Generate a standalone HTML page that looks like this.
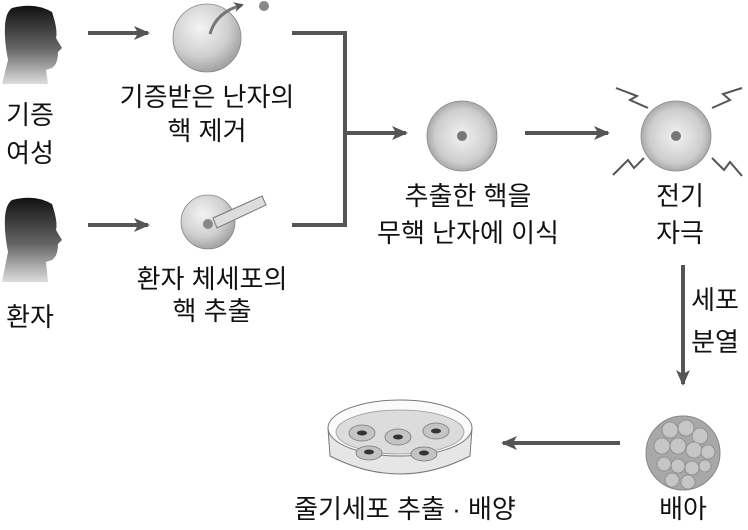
<!DOCTYPE html>
<html><head><meta charset="utf-8"><style>
html,body{margin:0;padding:0;background:#fff;}
svg{display:block;}
text{font-family:"Liberation Sans","Noto Sans CJK KR","NanumGothic",sans-serif;font-size:26px;fill:#111;text-anchor:middle;}
</style></head><body>
<svg width="748" height="530" viewBox="0 0 748 530" xmlns="http://www.w3.org/2000/svg">
<defs>
<radialGradient id="eg" cx="0.4" cy="0.35" r="0.7"><stop offset="0" stop-color="#f4f4f4"/><stop offset="0.6" stop-color="#cfcfcf"/><stop offset="1" stop-color="#9a9a9a"/></radialGradient>
<radialGradient id="eg2" cx="0.5" cy="0.5" r="0.55"><stop offset="0" stop-color="#f2f2f2"/><stop offset="0.7" stop-color="#cdcdcd"/><stop offset="1" stop-color="#9b9b9b"/></radialGradient>
<linearGradient id="hd" x1="0" y1="0" x2="0" y2="1"><stop offset="0" stop-color="#111"/><stop offset="0.55" stop-color="#666"/><stop offset="1" stop-color="#ddd"/></linearGradient>
<marker id="ah" markerWidth="10" markerHeight="10" refX="8" refY="5" orient="auto" markerUnits="userSpaceOnUse"><path d="M0,0 L10,5 L0,10 L3,5z" fill="#555"/></marker>
<marker id="ah2" markerWidth="16" markerHeight="14" refX="14" refY="7" orient="auto" markerUnits="userSpaceOnUse"><path d="M0,0 L16,7 L0,14 L4,7z" fill="#555"/></marker>
</defs>
<g fill="url(#hd)">
<path d="M12,8 Q35,2 52,12 Q58,30 56,38 L62,48 L58,52 Q58,64 52,68 L46,70 L48,84 L2,84 L8,60 Q4,40 5,25 Q6,12 12,8z"/>
<path d="M12,200 Q35,194 52,204 Q58,222 56,230 L62,240 L58,244 Q58,256 52,260 L46,262 L48,282 L2,282 L8,252 Q4,232 5,217 Q6,204 12,200z"/>
</g>
<text x="30" y="124">기증</text>
<text x="30" y="162">여성</text>
<text x="30" y="326">환자</text>
<g stroke="#555" stroke-width="4" fill="none">
<line x1="88" y1="33" x2="148" y2="33" marker-end="url(#ah2)"/>
<line x1="88" y1="225" x2="148" y2="225" marker-end="url(#ah2)"/>
<polyline points="292,33 345,33 345,225 292,225"/>
<line x1="345" y1="133" x2="406" y2="133" marker-end="url(#ah2)"/>
<line x1="525" y1="133" x2="608" y2="133" marker-end="url(#ah2)"/>
<line x1="683" y1="265" x2="683" y2="384" marker-end="url(#ah2)"/>
<line x1="620" y1="443" x2="503" y2="443" marker-end="url(#ah2)"/>
</g>
<circle cx="207" cy="38" r="34" fill="url(#eg)" stroke="#888" stroke-width="0.8"/>
<path d="M210,34 Q216,12 242,5" stroke="#777" stroke-width="3" fill="none" marker-end="url(#ah)"/>
<circle cx="264" cy="6" r="5" fill="#888"/>
<text x="207" y="106">기증받은 난자의</text>
<text x="207" y="140">핵 제거</text>
<circle cx="208" cy="222" r="27" fill="url(#eg)" stroke="#888" stroke-width="0.8"/>
<path d="M213,218 L262,196 L266,205 L217,228z" fill="#ddd" stroke="#777" stroke-width="1"/>
<circle cx="208" cy="224" r="5" fill="#888"/>
<text x="212" y="288">환자 체세포의</text>
<text x="212" y="320">핵 추출</text>
<circle cx="462" cy="136" r="35" fill="url(#eg2)" stroke="#888" stroke-width="0.8"/>
<circle cx="462" cy="136" r="5" fill="#777"/>
<text x="468" y="205">추출한 핵을</text>
<text x="468" y="242">무핵 난자에 이식</text>
<circle cx="676" cy="136" r="35" fill="url(#eg2)" stroke="#888" stroke-width="0.8"/>
<circle cx="676" cy="136" r="5" fill="#777"/>
<g stroke="#555" stroke-width="2" fill="none">
<polyline points="648,108 630,100 637,96 616,88"/>
<polyline points="712,108 730,100 723,94 742,88"/>
<polyline points="644,158 634,168 628,160 613,175"/>
<polyline points="712,158 724,170 730,162 742,176"/>
</g>
<text x="680" y="205">전기</text>
<text x="680" y="242">자극</text>
<text x="715" y="309">세포</text>
<text x="715" y="351">분열</text>
<circle cx="683" cy="453" r="37" fill="#a8a8a8" stroke="#888"/>
<g fill="#c6c6c6" stroke="#8a8a8a" stroke-width="0.8">
<circle cx="670" cy="430" r="8"/><circle cx="686" cy="428" r="8"/><circle cx="700" cy="436" r="8"/>
<circle cx="662" cy="446" r="8"/><circle cx="678" cy="446" r="8"/><circle cx="694" cy="450" r="8"/><circle cx="708" cy="452" r="7"/>
<circle cx="664" cy="464" r="7"/><circle cx="678" cy="466" r="7"/><circle cx="692" cy="468" r="7"/><circle cx="705" cy="466" r="6"/>
<circle cx="672" cy="480" r="7"/><circle cx="688" cy="482" r="7"/>
</g>
<text x="683" y="518">배아</text>
<path d="M328,428 L330,456 Q400,492 470,456 L472,428" fill="#e6e6e6" stroke="#777" stroke-width="1"/>
<ellipse cx="400" cy="428" rx="72" ry="28" fill="#fafafa" stroke="#777" stroke-width="1"/>
<ellipse cx="400" cy="432" rx="64" ry="22" fill="#dcdcdc" stroke="#999" stroke-width="0.8"/>
<g fill="#c4c4c4" stroke="#777" stroke-width="0.8">
<ellipse cx="362" cy="433" rx="13" ry="8"/><ellipse cx="398" cy="437" rx="13" ry="8"/><ellipse cx="436" cy="431" rx="13" ry="8"/>
<ellipse cx="369" cy="453" rx="13" ry="7"/><ellipse cx="424" cy="454" rx="13" ry="7"/>
</g>
<g fill="#333"><ellipse cx="362" cy="433" rx="5" ry="2.5"/><ellipse cx="398" cy="437" rx="5" ry="2.5"/><ellipse cx="436" cy="431" rx="5" ry="2.5"/><ellipse cx="369" cy="452" rx="5" ry="2.5"/><ellipse cx="424" cy="453" rx="5" ry="2.5"/></g>
<text x="405" y="518">줄기세포 추출 · 배양</text>
</svg>
</body></html>
